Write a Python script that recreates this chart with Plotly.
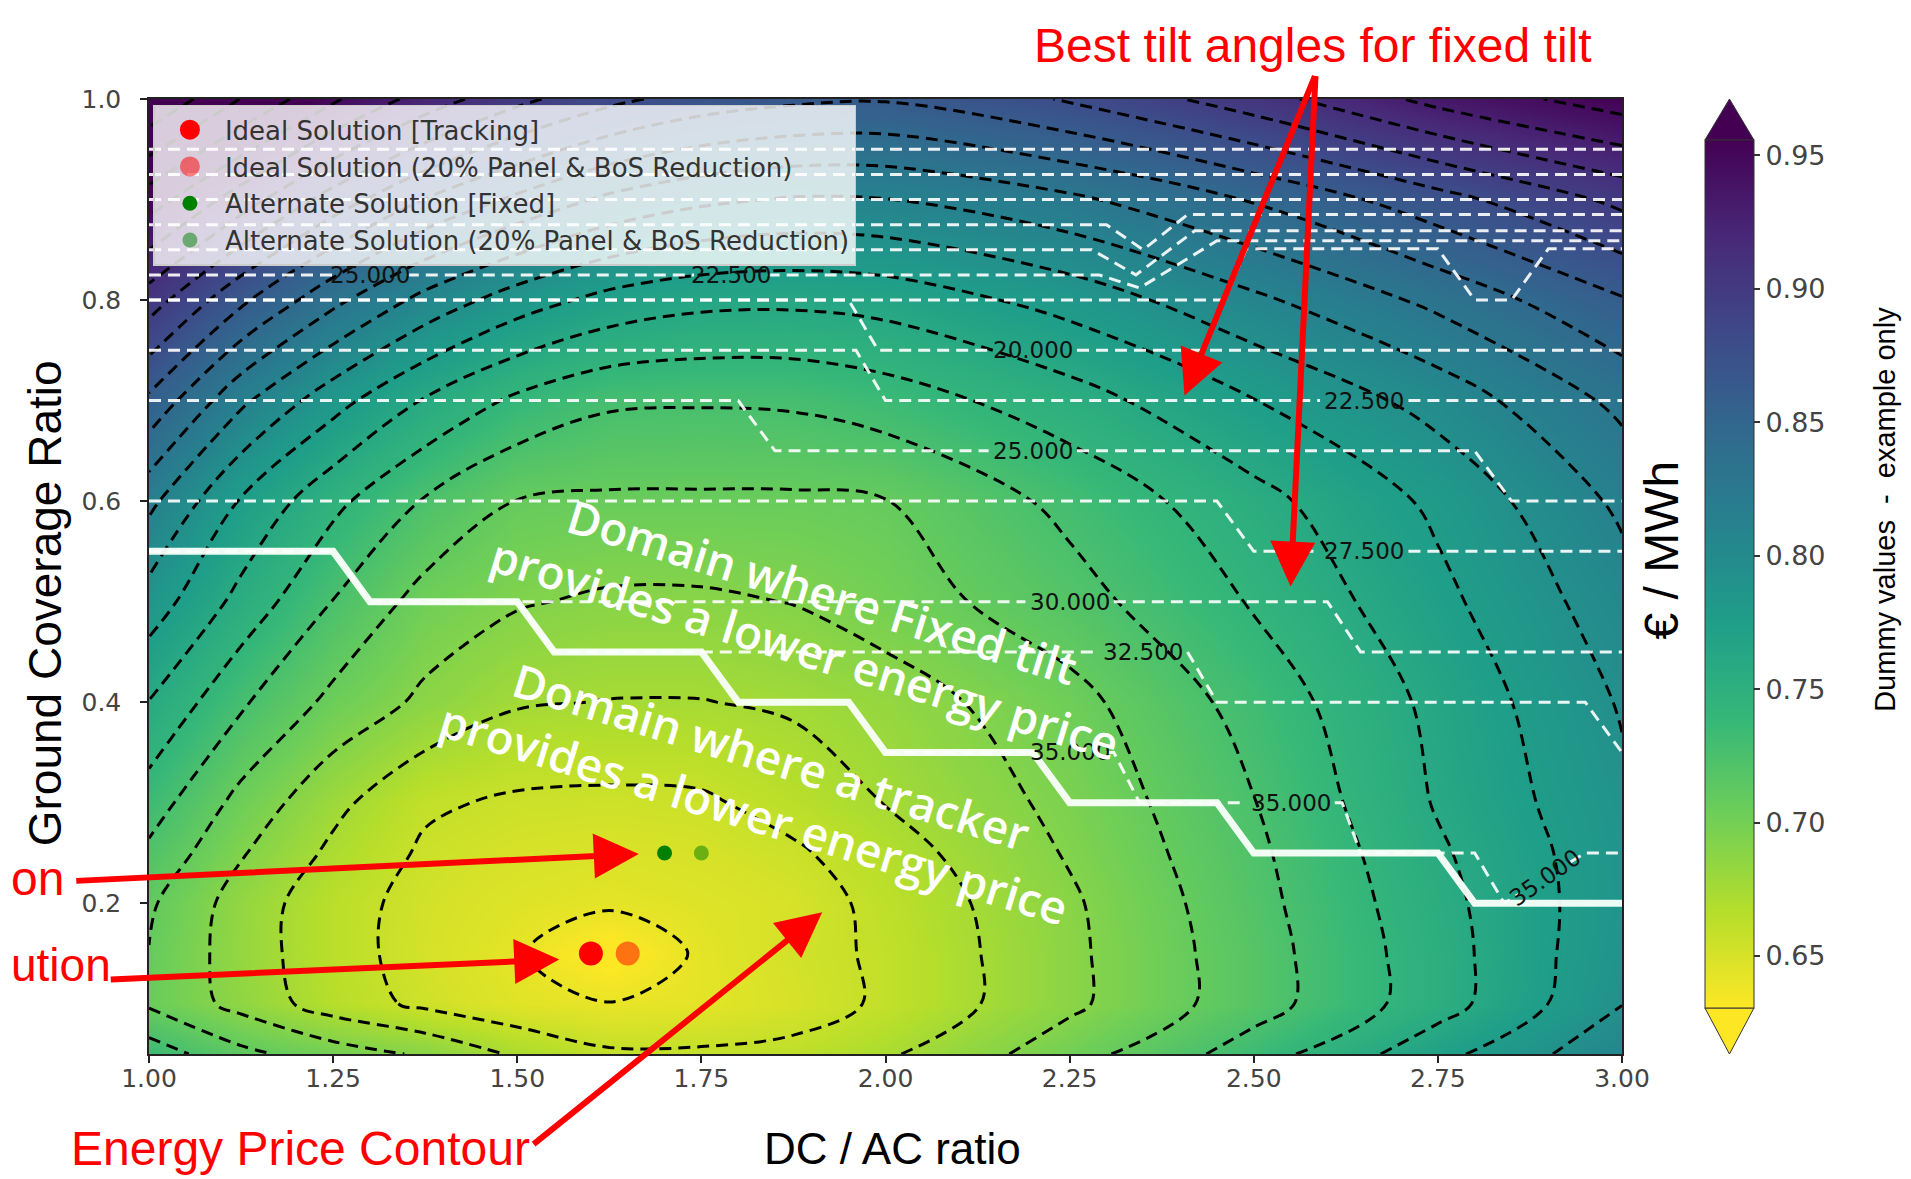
import plotly.graph_objects as go

# ---------------- data ----------------
dc_ac = [1.0, 1.125, 1.25, 1.375, 1.5, 1.625, 1.75, 1.875, 2.0, 2.25, 2.5, 2.75, 3.0]
gcr = [0.05, 0.1, 0.15, 0.2, 0.25, 0.3, 0.4, 0.5, 0.6, 0.7, 0.8, 0.9, 1.0]
price = [
    [0.735, 0.713, 0.700, 0.689, 0.672, 0.660, 0.660, 0.662, 0.672, 0.701, 0.734, 0.771, 0.807],
    [0.706, 0.686, 0.666, 0.654, 0.645, 0.641, 0.643, 0.650, 0.660, 0.688, 0.718, 0.752, 0.793],
    [0.708, 0.683, 0.664, 0.651, 0.642, 0.626, 0.643, 0.652, 0.660, 0.688, 0.718, 0.752, 0.790],
    [0.711, 0.684, 0.664, 0.652, 0.646, 0.643, 0.646, 0.650, 0.662, 0.689, 0.720, 0.754, 0.788],
    [0.722, 0.693, 0.671, 0.655, 0.650, 0.648, 0.650, 0.655, 0.667, 0.693, 0.722, 0.757, 0.788],
    [0.734, 0.703, 0.679, 0.660, 0.655, 0.654, 0.655, 0.664, 0.675, 0.696, 0.725, 0.761, 0.790],
    [0.759, 0.728, 0.704, 0.688, 0.676, 0.674, 0.674, 0.677, 0.683, 0.703, 0.732, 0.764, 0.795],
    [0.786, 0.754, 0.725, 0.702, 0.693, 0.689, 0.689, 0.692, 0.700, 0.719, 0.744, 0.772, 0.803],
    [0.815, 0.775, 0.747, 0.724, 0.708, 0.706, 0.706, 0.706, 0.708, 0.730, 0.754, 0.780, 0.814],
    [0.858, 0.814, 0.783, 0.758, 0.739, 0.728, 0.727, 0.728, 0.734, 0.752, 0.776, 0.800, 0.832],
    [0.904, 0.865, 0.832, 0.805, 0.785, 0.771, 0.764, 0.763, 0.766, 0.783, 0.807, 0.832, 0.860],
    [0.955, 0.921, 0.888, 0.861, 0.841, 0.824, 0.814, 0.809, 0.810, 0.824, 0.846, 0.872, 0.900],
    [1.014, 0.980, 0.949, 0.922, 0.900, 0.883, 0.871, 0.865, 0.863, 0.880, 0.905, 0.935, 0.955],
]
price_levels_start = 0.6405
price_levels_step = 0.017
price_levels_end = 1.03
color_min = 0.6305
color_max = 0.9558
colorbar_ticks = [0.65, 0.70, 0.75, 0.80, 0.85, 0.90, 0.95]
x_ticks = [1.0, 1.25, 1.5, 1.75, 2.0, 2.25, 2.5, 2.75, 3.0]
y_ticks = [0.2, 0.4, 0.6, 0.8, 1.0]

# optimum points
ideal_tracking_x, ideal_tracking_y = [1.60], [0.15]
ideal_reduced_x, ideal_reduced_y = [1.65], [0.15]
alt_fixed_x, alt_fixed_y = [1.70], [0.25]
alt_reduced_x, alt_reduced_y = [1.75], [0.25]

# boundary between tracker / fixed-tilt domains
boundary_x = [1.0, 1.25, 1.30, 1.50, 1.55, 1.75, 1.80, 1.95, 2.0, 2.20, 2.25, 2.45, 2.50, 2.75, 2.80, 3.0]
boundary_y = [0.55, 0.55, 0.50, 0.50, 0.45, 0.45, 0.40, 0.40, 0.35, 0.35, 0.30, 0.30, 0.25, 0.25, 0.20, 0.20]

# best-tilt contour lines (None = gap under inline label)
tilt_a_x = [1.0, 3.0]
tilt_a_y = [0.95, 0.95]
tilt_b_x = [1.0, 3.0]
tilt_b_y = [0.925, 0.925]
tilt_c_x = [1.0, 3.0]
tilt_c_y = [0.90, 0.90]
tilt_d_x = [1.0, 2.30, 2.35, 2.41, 3.0]
tilt_d_y = [0.875, 0.875, 0.85, 0.885, 0.885]
tilt_e_x = [1.0, 2.28, 2.34, 2.42, 3.0]
tilt_e_y = [0.85, 0.85, 0.825, 0.869, 0.869]
tilt_f_x = [1.0, 1.25, None, 1.35, 1.74, None, 1.84, 2.29, 2.345, 2.45, 3.0]
tilt_f_y = [0.825, 0.825, None, 0.825, 0.825, None, 0.825, 0.825, 0.812, 0.859, 0.859]
tilt_g_x = [1.0, 2.46, 2.49, 2.75, 2.80, 2.85, 2.90, 3.0]
tilt_g_y = [0.80, 0.80, 0.851, 0.851, 0.80, 0.80, 0.851, 0.851]
tilt_h_x = [1.0, 1.95, 1.99, 2.14, None, 2.26, 3.0]
tilt_h_y = [0.80, 0.80, 0.75, 0.75, None, 0.75, 0.75]
tilt_i_x = [1.0, 1.96, 2.0, 2.59, None, 2.71, 3.0]
tilt_i_y = [0.75, 0.75, 0.70, 0.70, None, 0.70, 0.70]
tilt_j_x = [1.0, 1.80, 1.85, 2.14, None, 2.26, 2.80, 2.85, 3.0]
tilt_j_y = [0.70, 0.70, 0.65, 0.65, None, 0.65, 0.65, 0.60, 0.60]
tilt_k_x = [1.0, 2.45, 2.50, 2.59, None, 2.71, 3.0]
tilt_k_y = [0.60, 0.60, 0.55, 0.55, None, 0.55, 0.55]
tilt_l_x = [1.0, 1.25, 1.30, 2.19, None, 2.31, 2.60, 2.645, 3.0]
tilt_l_y = [0.55, 0.55, 0.50, 0.50, None, 0.50, 0.50, 0.45, 0.45]
tilt_m_x = [1.5, 1.55, 2.29, None, 2.41, 2.45, 2.95, 3.0]
tilt_m_y = [0.50, 0.45, 0.45, None, 0.45, 0.40, 0.40, 0.35]
tilt_n_x = [2.0, 2.20, None, 2.30, 2.31, 2.345, 2.49, None, 2.61, 2.62, 2.645, 2.80, 2.84, 2.86, None, 2.93, 2.95, 3.0]
tilt_n_y = [0.35, 0.35, None, 0.35, 0.35, 0.30, 0.30, None, 0.30, 0.30, 0.25, 0.25, 0.20, 0.209, None, 0.241, 0.25, 0.25]

tilt_label_text = ["25.000", "22.500", "20.000", "22.500", "25.000", "27.500",
                   "30.000", "32.500", "35.000", "35.000", "35.000"]
tilt_label_x = [1.30, 1.79, 2.20, 2.65, 2.20, 2.65, 2.25, 2.35, 2.25, 2.55, 2.895]
tilt_label_y = [0.825, 0.825, 0.75, 0.70, 0.65, 0.55, 0.50, 0.45, 0.35, 0.30, 0.225]

# ---------------- figure ----------------
W, H = 1911, 1179
ML, MR, MT, MB = 141, 297, 91, 133

CB_X0, CB_X1 = 1.0563, 1.0896  # colorbar body (paper)
CB_Y0, CB_Y1 = 0.0482, 0.957

fig = go.Figure()

fig.add_trace(go.Heatmap(
    x=dc_ac, y=gcr, z=price, zsmooth="best",
    colorscale="Viridis", reversescale=True, zmin=color_min, zmax=color_max,
    hoverinfo="skip", showlegend=False,
    colorbar=dict(
        x=CB_X0, xanchor="left", xpad=0, y=CB_Y0, yanchor="bottom", ypad=0,
        len=CB_Y1 - CB_Y0, lenmode="fraction", thickness=49, thicknessmode="pixels",
        tickvals=colorbar_ticks, ticktext=[f"{v:.2f}" for v in colorbar_ticks],
        ticks="outside", ticklen=6, tickwidth=1.5, tickcolor="#333",
        tickfont=dict(family="DejaVu Sans", size=27, color="#444"),
        outlinewidth=1, outlinecolor="#333",
    ),
))

fig.add_trace(go.Contour(
    x=dc_ac, y=gcr, z=price, showscale=False, hoverinfo="skip", showlegend=False,
    contours=dict(start=price_levels_start, end=price_levels_end, size=price_levels_step,
                  coloring="none"),
    line=dict(color="black", width=3, dash="12px,7px", smoothing=1.0),
))

tilt_lines = [
    (tilt_a_x, tilt_a_y), (tilt_b_x, tilt_b_y), (tilt_c_x, tilt_c_y), (tilt_d_x, tilt_d_y),
    (tilt_e_x, tilt_e_y), (tilt_f_x, tilt_f_y), (tilt_g_x, tilt_g_y), (tilt_h_x, tilt_h_y),
    (tilt_i_x, tilt_i_y), (tilt_j_x, tilt_j_y), (tilt_k_x, tilt_k_y), (tilt_l_x, tilt_l_y),
    (tilt_m_x, tilt_m_y), (tilt_n_x, tilt_n_y),
]
for tx, ty in tilt_lines:
    fig.add_trace(go.Scatter(
        x=tx, y=ty, mode="lines", showlegend=False, hoverinfo="skip", connectgaps=False,
        line=dict(color="rgba(255,255,255,0.9)", width=3, dash="12px,7px"),
    ))

fig.add_trace(go.Scatter(
    x=boundary_x, y=boundary_y, mode="lines", showlegend=False, hoverinfo="skip",
    line=dict(color="rgba(250,255,250,0.95)", width=7),
))

fig.add_trace(go.Scatter(x=ideal_tracking_x, y=ideal_tracking_y, mode="markers",
                         name="Ideal Solution [Tracking]", legendgroup="a",
                         marker=dict(color="red", size=20, line=dict(color="red", width=4))))
fig.add_trace(go.Scatter(x=ideal_reduced_x, y=ideal_reduced_y, mode="markers",
                         name="Ideal Solution (20% Panel & BoS Reduction)", legendgroup="b",
                         opacity=0.5, marker=dict(color="red", size=20, line=dict(color="red", width=4))))
fig.add_trace(go.Scatter(x=alt_fixed_x, y=alt_fixed_y, mode="markers",
                         name="Alternate Solution [Fixed]", legendgroup="c",
                         marker=dict(color="green", size=15)))
fig.add_trace(go.Scatter(x=alt_reduced_x, y=alt_reduced_y, mode="markers",
                         name="Alternate Solution (20% Panel & BoS Reduction)", legendgroup="d",
                         opacity=0.5, marker=dict(color="green", size=15)))

annotations = []

# inline contour labels of the tilt lines
for i, (t, lx, ly) in enumerate(zip(tilt_label_text, tilt_label_x, tilt_label_y)):
    annotations.append(dict(
        x=lx, y=ly, xref="x", yref="y", text=t, showarrow=False,
        xanchor="center", yanchor="middle",
        textangle=-35 if i == len(tilt_label_text) - 1 else 0,
        font=dict(family="DejaVu Sans", size=23, color="#111"),
    ))

# white domain texts
annotations.append(dict(
    x=1.903, y=0.482, xref="x", yref="y", showarrow=False, textangle=17, align="center",
    xanchor="center", yanchor="middle",
    text="Domain where Fixed tilt<br>provides a lower energy price",
    font=dict(family="Open Sans", size=46, color="white", weight=600),
))
annotations.append(dict(
    x=1.834, y=0.318, xref="x", yref="y", showarrow=False, textangle=17, align="center",
    xanchor="center", yanchor="middle",
    text="Domain where a tracker<br>provides a lower energy price",
    font=dict(family="Open Sans", size=46, color="white", weight=600),
))

# red arrows
def red_arrow(x, y, ax, ay):
    annotations.append(dict(
        x=x, y=y, xref="x", yref="y", ax=ax, ay=ay, axref="pixel", ayref="pixel",
        text="", showarrow=True, arrowhead=2, arrowsize=1.5, arrowwidth=6,
        arrowcolor="#ff0000", standoff=0, startstandoff=0,
    ))

red_arrow(1.665, 0.249, -564, 27)
red_arrow(1.557, 0.144, -450, 20)
red_arrow(1.914, 0.191, -290, 233)
red_arrow(2.406, 0.705, 131, -321)
red_arrow(2.550, 0.515, 25, -512)

red_font = dict(family="Liberation Sans", size=48, color="#ff0000")

def paper_text(x, y, text, font, angle=0, xanchor="center"):
    annotations.append(dict(x=x, y=y, xref="paper", yref="paper", showarrow=False,
                            xanchor=xanchor, yanchor="middle", textangle=angle,
                            text=text, font=font))

paper_text(0.790, 1.0565, "Best tilt angles for fixed tilt",
           dict(family="Liberation Sans", size=48, color="#ff0000"))
paper_text(0.103, -0.099, "Energy Price Contour", red_font)
paper_text(-0.0950, 0.184, "on", red_font, xanchor="left")
paper_text(-0.0950, 0.093, "ution", dict(family="Liberation Sans", size=46, color="#ff0000"), xanchor="left")
paper_text(0.505, -0.099, "DC / AC ratio", dict(family="Liberation Sans", size=44, color="black"))
paper_text(-0.0706, 0.472, "Ground Coverage Ratio",
           dict(family="Liberation Sans", size=46, color="black"), angle=-90)
paper_text(1.027, 0.528, "€ / MWh", dict(family="Liberation Sans", size=48, color="black"), angle=-90)
paper_text(1.178, 0.57, "Dummy values  -  example only",
           dict(family="Liberation Sans", size=29, color="black"), angle=-90)

cb_mid = (CB_X0 + CB_X1) / 2
shapes = [
    dict(type="path", xref="paper", yref="paper",
         path=f"M {CB_X0},{CB_Y1} L {CB_X1},{CB_Y1} L {cb_mid},1.0 Z",
         fillcolor="#440154", line=dict(color="#333", width=1)),
    dict(type="path", xref="paper", yref="paper",
         path=f"M {CB_X0},{CB_Y0} L {CB_X1},{CB_Y0} L {cb_mid},0.0 Z",
         fillcolor="#fde725", line=dict(color="#333", width=1)),
]

axis_common = dict(
    showgrid=False, zeroline=False, showline=True, mirror=True, linecolor="#222", linewidth=1.5,
    ticks="outside", ticklen=7, tickwidth=1.5, tickcolor="#222",
    tickfont=dict(family="DejaVu Sans", size=25, color="#444"),
)

fig.update_layout(
    width=W, height=H,
    margin=dict(l=ML, r=MR, t=MT, b=MB, pad=0),
    paper_bgcolor="white", plot_bgcolor="white",
    xaxis=dict(range=[1.0, 3.0], tickvals=x_ticks, ticktext=[f"{v:.2f}" for v in x_ticks],
               ticklabelstandoff=-6, **axis_common),
    yaxis=dict(range=[0.05, 1.0], tickvals=y_ticks, ticktext=[f"{v:.1f}" for v in y_ticks],
               ticklabelstandoff=14, **axis_common),
    legend=dict(x=0.003, y=0.994, xanchor="left", yanchor="top",
                bgcolor="rgba(255,255,255,0.8)", bordercolor="#cccccc", borderwidth=1.5,
                font=dict(family="DejaVu Sans", size=26, color="#333"),
                itemwidth=60, tracegroupgap=4, traceorder="normal"),
    annotations=annotations,
    shapes=shapes,
    showlegend=True,
)

fig.write_html("out.html")
